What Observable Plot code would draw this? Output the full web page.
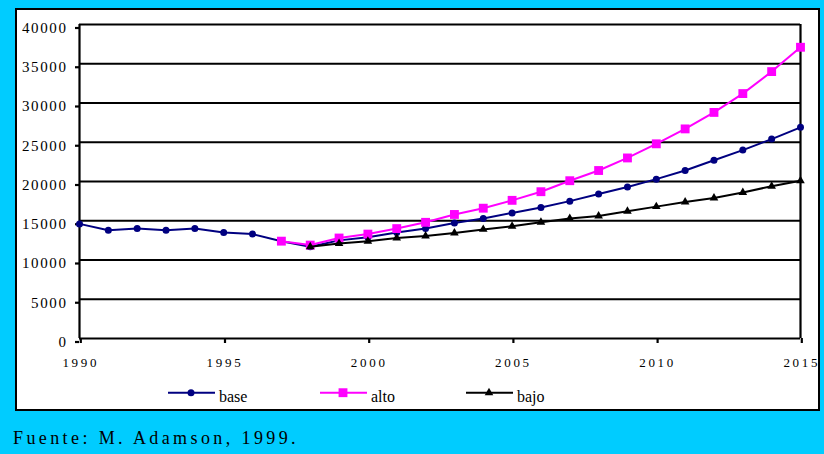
<!DOCTYPE html>
<html>
<head>
<meta charset="utf-8">
<script src="https://cdn.jsdelivr.net/npm/d3@7"></script>
<script src="https://cdn.jsdelivr.net/npm/@observablehq/plot@0.6"></script>
<style>
  html, body { margin: 0; padding: 0; }
  body { width: 824px; height: 454px; background: #00CCFF; position: relative; overflow: hidden; font-family: "Liberation Serif", Tinos, "DejaVu Serif", "Times New Roman", Times, serif; }
  #panel { position: absolute; left: 15px; top: 8px; width: 801px; height: 399px; background: #fff; border: 2px solid #000; }
  #chart { position: absolute; left: 0; top: 0; }
  #chart svg { overflow: visible; }
  #chart svg text { font-family: "Liberation Serif", Tinos, "DejaVu Serif", "Times New Roman", Times, serif; }
  g[aria-label="y-axis tick label"] text { letter-spacing: 1.6px; }
  g[aria-label="x-axis tick label"] text { letter-spacing: 2.7px; }
  .leg { position: absolute; top: 384px; height: 20px; }
  .leg svg { position: absolute; left: 0; top: 0; overflow: visible; }
  .leg span { position: absolute; top: 4px; font-size: 16px; color: #000; white-space: nowrap; }
  #footer { position: absolute; left: 13px; top: 428px; font-size: 18px; letter-spacing: 3.4px; color: #000; white-space: nowrap; }
</style>
</head>
<body>
<div id="panel"></div>
<div id="chart"></div>
<div id="legend"></div>
<div id="footer">Fuente: M. Adamson, 1999.</div>
<script>
const years = d3.range(1990, 2016);
const baseYears = years;
const baseValues = [14600, 13800, 14000, 13800, 14000, 13500, 13300, 12400, 11700, 12500,
                    12900, 13500, 14000, 14700, 15300, 16000, 16700, 17500, 18400, 19300,
                    20300, 21400, 22700, 24000, 25400, 26900];
const altoYears = d3.range(1997, 2016);
const altoValues = [12400, 11900, 12800, 13300, 14000, 14800, 15800, 16600, 17600, 18700,
                    20100, 21400, 23000, 24800, 26700, 28800, 31200, 34000, 37100];
const bajoYears = d3.range(1998, 2016);
const bajoValues = [11700, 12100, 12400, 12800, 13050, 13450, 13900, 14300, 14800, 15300,
                    15600, 16200, 16800, 17400, 17900, 18600, 19400, 20100];
const seriesNames = ["base", "alto", "bajo"];
const seriesColors = ["#000080", "#FF00FF", "#000000"];
const seriesSymbols = ["circle", "square", "triangle"];
const seriesR = [3.5, 5, 3.2];
const xTicks = [1990, 1995, 2000, 2005, 2010, 2015];
const yTicks = [0, 5000, 10000, 15000, 20000, 25000, 30000, 35000, 40000];

const toRows = (name, ys, vs) => ys.map((y, i) => ({series: name, year: y, value: vs[i]}));
const data = {
  base: toRows("base", baseYears, baseValues),
  alto: toRows("alto", altoYears, altoValues),
  bajo: toRows("bajo", bajoYears, bajoValues)
};

const seriesMarks = seriesNames.flatMap((name, i) => [
  Plot.line(data[name], {x: "year", y: "value", stroke: seriesColors[i], strokeWidth: 2}),
  Plot.dot(data[name], {x: "year", y: "value", symbol: seriesSymbols[i], r: seriesR[i], fill: seriesColors[i], stroke: "none"})
]);

const serif = "'Liberation Serif', Tinos, 'DejaVu Serif', 'Times New Roman', Times, serif";
const chart = Plot.plot({
  width: 824,
  height: 380,
  marginLeft: 79,
  marginRight: 24,
  marginTop: 24,
  marginBottom: 42,
  style: {background: "transparent", fontFamily: serif, color: "#000", overflow: "visible"},
  x: {domain: [1990, 2015]},
  y: {domain: [0, 40000]},
  marks: [
    Plot.ruleY(yTicks, {stroke: "#000", strokeWidth: 2.2}),
    Plot.ruleX([1990, 2015], {y1: 0, y2: 40000, stroke: "#000", strokeWidth: 2.2}),
    Plot.axisY({ticks: yTicks, tickSize: 4, tickPadding: 8, fontSize: 15, strokeWidth: 2.2, dy: 3.5, tickFormat: d => String(d), label: null}),
    Plot.axisX({ticks: xTicks, tickSize: 5, tickPadding: 14, fontSize: 13, strokeWidth: 2.2, dx: 1.3, tickFormat: d => String(d), label: null}),
    ...seriesMarks
  ]
});
document.getElementById("chart").appendChild(chart);

// legend
const legendX = [168, 320, 466];
const legend = document.getElementById("legend");
seriesNames.forEach((name, i) => {
  const item = document.createElement("div");
  item.className = "leg";
  item.style.left = legendX[i] + "px";
  const s = d3.create("svg").attr("width", 47).attr("height", 20);
  s.append("line").attr("x1", 0).attr("x2", 47).attr("y1", 8.7).attr("y2", 8.7)
    .attr("stroke", seriesColors[i]).attr("stroke-width", 2);
  const sym = {circle: d3.symbolCircle, square: d3.symbolSquare, triangle: d3.symbolTriangle}[seriesSymbols[i]];
  s.append("path").attr("transform", "translate(23,8.7)")
    .attr("d", d3.symbol(sym, Math.PI * seriesR[i] * seriesR[i])())
    .attr("fill", seriesColors[i]);
  item.appendChild(s.node());
  const t = document.createElement("span");
  t.style.left = "51px";
  t.textContent = name;
  item.appendChild(t);
  legend.appendChild(item);
});
</script>
</body>
</html>
